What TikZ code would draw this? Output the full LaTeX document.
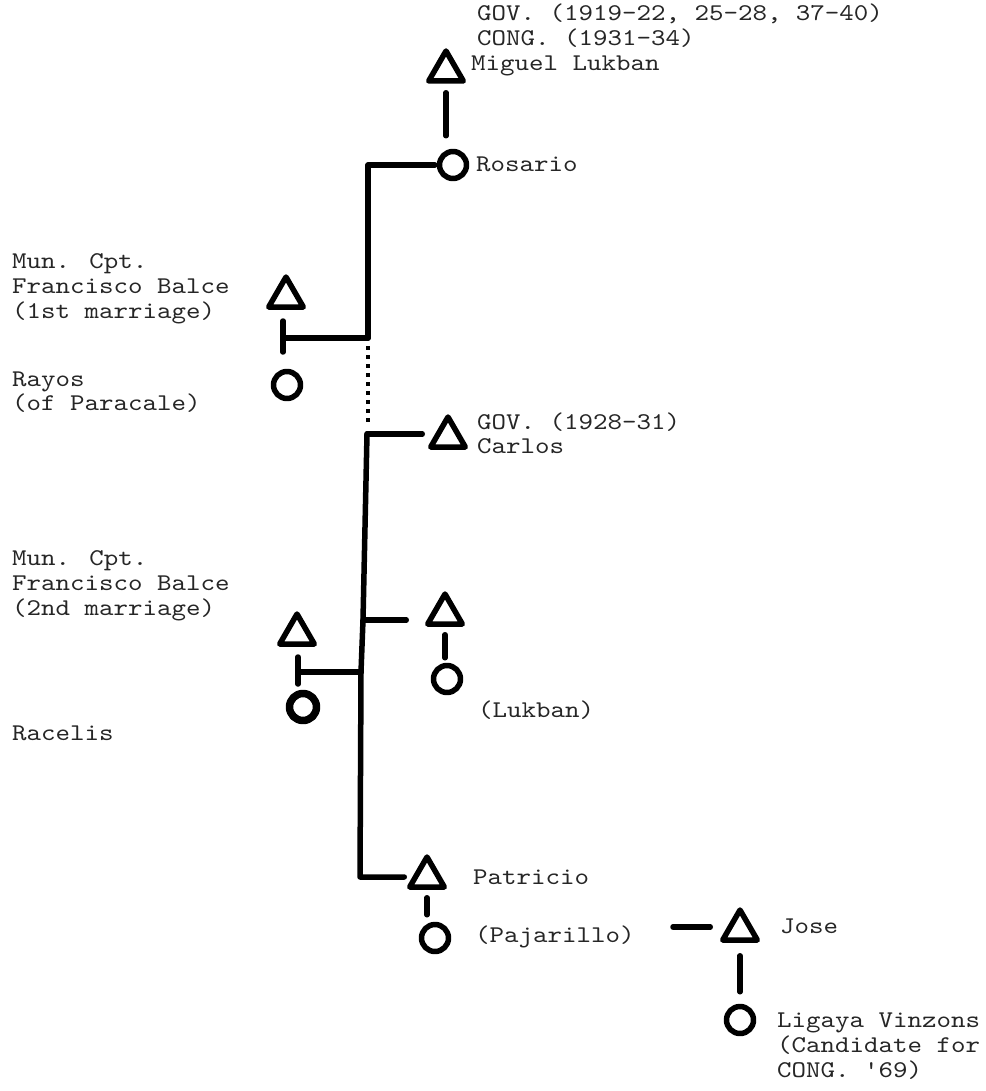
\documentclass[tikz,border=0pt]{standalone}
\usepackage{fontspec}
\newfontfamily\twfont{lmmono10-regular.otf}[FakeStretch=1.15]
\usetikzlibrary{shapes.geometric}
\begin{document}
\begin{tikzpicture}[x=1pt,y=-1pt,
  pen/.style={line width=5.5pt, line cap=round, line join=round},
  male/.style={draw, pen, regular polygon, regular polygon sides=3, minimum size=40pt, inner sep=0pt},
  female/.style={draw, pen, circle, minimum size=27pt, inner sep=0pt},
  lbl/.style={anchor=west, inner sep=0pt, text height=16pt, text depth=5pt,
    font=\twfont\fontsize{24pt}{25pt}\selectfont, text=black!85},
  dots/.style={line width=3.5pt, dash pattern=on 4pt off 5pt},
]
\useasboundingbox (0,0) rectangle (985,1091);

% people
\node[male] (miguel) at (446,71) {};
\node[female] (rosario) at (453,165) {};
\node[male] (balceA) at (286,297) {};
\node[female] (rayos) at (287,385) {};
\node[male] (carlos) at (448,437) {};
\node[male] (balceB) at (297,634) {};
\node[female,line width=7.5pt] (racelis) at (303,707) {};
\node[male] (lukbanm) at (445,614) {};
\node[female] (lukbanf) at (447,679) {};
\node[male] (patricio) at (427,877) {};
\node[female] (pajarillo) at (435,938) {};
\node[male] (jose) at (740,930) {};
\node[female] (ligaya) at (740,1020) {};

% trunk points
\coordinate (t1) at (368,165);
\coordinate (j1) at (368,338);
\coordinate (d1) at (368,346);
\coordinate (d2) at (368,425);
\coordinate (t2) at (367,434);
\coordinate (b2) at (363,620);
\coordinate (j2) at (361,672);
\coordinate (t3) at (360,877);
\coordinate (m1) at (283,338);
\coordinate (m1a) at (283,321);
\coordinate (m1b) at (283,352);
\coordinate (m2) at (298,672);
\coordinate (m2a) at (298,657);
\coordinate (m2b) at (298,684);
\coordinate (pj) at (673,927);

% connectors
\draw[pen, shorten <=9pt, shorten >=13pt] (miguel.south) -- (miguel.south |- rosario.north);
\draw[pen, shorten <=2pt] (rosario.west) -- (t1) -- (j1);
\draw[pen] (m1a) -- (m1b);
\draw[pen] (m1) -- (j1);
\draw[dots] (d1) -- (d2);
\draw[pen, shorten >=11pt] (t2) -- (t2 -| carlos.west);
\draw[pen, shorten >=8pt] (t2) -- (b2) -- (j2) -- (t3) -- (patricio.west);
\draw[pen, shorten >=24pt] (b2) -- (b2 -| lukbanm.west);
\draw[pen] (m2a) -- (m2b);
\draw[pen] (m2) -- (j2);
\draw[pen, shorten <=8pt, shorten >=5pt] (lukbanm.south) -- (lukbanm.south |- lukbanf.north);
\draw[pen, shorten <=8pt, shorten >=7pt] (patricio.south) -- (patricio.south |- pajarillo.north);
\draw[pen, shorten >=15pt] (pj) -- (pj -| jose.west);
\draw[pen, shorten <=13pt, shorten >=12pt] (jose.south) -- (jose.south |- ligaya.north);

% labels
\node[lbl] (gov1) at (477,15) {GOV. (1919-22, 25-28, 37-40)};
\node[lbl] (cong1) at (477,40) {CONG. (1931-34)};
\node[lbl] (miguelt) at (471,65) {Miguel Lukban};
\node[lbl] (rosariot) at (476,166) {Rosario};

\node[lbl] (mun1) at (12,263) {Mun. Cpt.};
\node[lbl] (fb1) at (12,288) {Francisco Balce};
\node[lbl] (mar1) at (12,313) {(1st marriage)};
\node[lbl] (rayost) at (12,381) {Rayos};
\node[lbl] (parat) at (12,405) {(of Paracale)};

\node[lbl] (gov2) at (477,424) {GOV. (1928-31)};
\node[lbl] (carlost) at (477,448) {Carlos};

\node[lbl] (mun2) at (12,560) {Mun. Cpt.};
\node[lbl] (fb2) at (12,585) {Francisco Balce};
\node[lbl] (mar2) at (12,610) {(2nd marriage)};
\node[lbl] (racelist) at (12,735) {Racelis};

\node[lbl] (lukbant) at (478,712) {(Lukban)};
\node[lbl] (patriciot) at (473,879) {Patricio};
\node[lbl] (pajat) at (475,937) {(Pajarillo)};
\node[lbl] (joset) at (780,928) {Jose};
\node[lbl] (ligayat) at (777,1022) {Ligaya Vinzons};
\node[lbl] (candt) at (777,1047) {(Candidate for};
\node[lbl] (cong2) at (777,1072) {CONG. '69)};
\end{tikzpicture}
\end{document}
